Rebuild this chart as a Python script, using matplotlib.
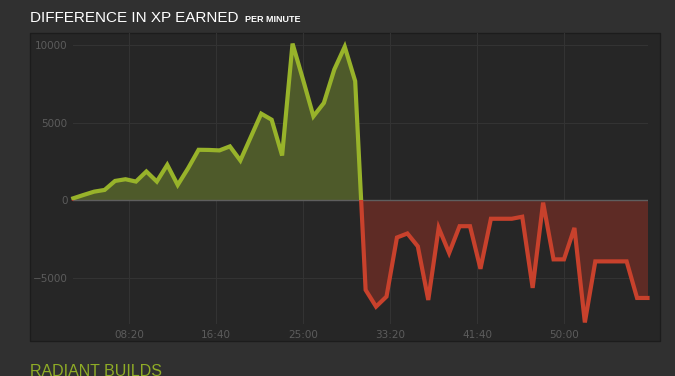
import numpy as np
import matplotlib
matplotlib.use("Agg")
import matplotlib.pyplot as plt
from matplotlib.patches import Rectangle
from matplotlib.ticker import FuncFormatter

# one sample per minute, starting at minute 3
start_min = 3
xp_diff = [
    110, 330, 540, 650, 1230, 1340, 1190, 1840, 1190, 2270, 970, 2050,
    3240, 3230, 3200, 3460, 2550, 4060, 5570, 5180, 2870, 10090, 7780,
    5400, 6260, 8420, 9890, 7670,
    -5800, -6880, -6230, -2420, -2160, -2990, -6450, -1800, -3420, -1690,
    -1690, -4440, -1210, -1210, -1210, -1080, -5670, -170, -3830, -3830,
    -1800, -7900, -3960, -3960, -3960, -3960, -6320, -6320,
]
y_ticks = [-5000, 0, 5000, 10000]
x_ticks = [500, 1000, 1500, 2000, 2500, 3000]

BG = "#303030"
PANEL = "#262626"
GREEN = "#98b32a"
GREEN_FILL = "#4e5a2a"
RED = "#c8412c"
RED_FILL = "#5e2b25"
TXT = "#5c5c5c"

W, H = 675, 376
fig = plt.figure(figsize=(W / 100, H / 100), dpi=100, facecolor=BG)

def px(x0, y0, x1, y1):
    return [x0 / W, 1 - y1 / H, (x1 - x0) / W, (y1 - y0) / H]

# panel box
panel = Rectangle((30 / W, 1 - 341 / H), 630 / W, 308 / H,
                  transform=fig.transFigure, facecolor=PANEL,
                  edgecolor="#1c1c1c", linewidth=1, zorder=-5)
fig.patches.append(panel)

ax = fig.add_axes(px(73.3, 33, 647.5, 324))
ax.set_facecolor("none")
ax.set_zorder(1)

t = 60 * (start_min + np.arange(len(xp_diff)))
v = np.array(xp_diff)

ax.set_xlim(t[0], t[-1])
ax.set_ylim(-8000, 10775)

ax.fill_between(t, 0, v, where=v >= 0, interpolate=True, color=GREEN_FILL, lw=0, zorder=1)
ax.fill_between(t, 0, v, where=v <= 0, interpolate=True, color=RED_FILL, lw=0, zorder=1)
ax.axhline(0, color="#5e5e5e", lw=1, zorder=2)

top = ax.plot(t, v, color=GREEN, lw=3, solid_joinstyle="miter", zorder=3)[0]
top.set_clip_path(Rectangle((t[0] - 100, 0), t[-1] - t[0] + 200, 20000, transform=ax.transData))
bot = ax.plot(t, v, color=RED, lw=3, solid_joinstyle="miter", zorder=3)[0]
bot.set_clip_path(Rectangle((t[0] - 100, -20000), t[-1] - t[0] + 200, 20000, transform=ax.transData))

ax.set_yticks(y_ticks)
ax.set_xticks(x_ticks)
ax.xaxis.set_major_formatter(FuncFormatter(lambda s, p: "%02d:%02d" % (s // 60, s % 60)))
ax.tick_params(length=0, labelsize=7.5, labelcolor=TXT)
ax.tick_params(axis="y", pad=4)
ax.tick_params(axis="x", pad=4)
ax.grid(True, color="#333333", lw=0.8, zorder=0)
ax.set_axisbelow(True)
for s in ax.spines.values():
    s.set_visible(False)

fig.text(30 / W, 1 - 18 / H, "DIFFERENCE IN XP EARNED", color="white",
         fontsize=11, family="Liberation Sans", va="center", ha="left")
fig.text(245 / W, 1 - 19 / H, "PER MINUTE", color="white", fontsize=6.5,
         fontweight="bold", family="Liberation Sans", va="center", ha="left")
fig.text(30 / W, 1 - 364 / H, "RADIANT BUILDS", color="#8fac26",
         fontsize=11.5, family="Liberation Sans", va="top", ha="left")

fig.savefig("out.png", dpi=100, facecolor=BG)
